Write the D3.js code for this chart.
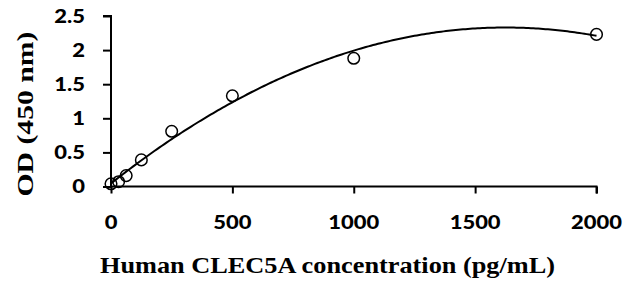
<!DOCTYPE html>
<html><head><meta charset="utf-8">
<script src="https://cdn.jsdelivr.net/npm/d3@7"></script>
<style>body{margin:0;background:#fff}svg{display:block}</style></head>
<body><svg id="c" width="628" height="288"></svg>
<script>
const concentrations = [0, 31.25, 62.5, 125, 250, 500, 1000, 2000];
const odValues = [0.04, 0.07, 0.16, 0.39, 0.81, 1.33, 1.88, 2.23];
const xTicks = [0, 500, 1000, 1500, 2000];
const yTicks = [0, 0.5, 1, 1.5, 2, 2.5];
const yTickLabels = ["0", "0.5", "1", "1.5", "2", "2.5"];
const xTitle = "Human CLEC5A concentration (pg/mL)";
const yTitle = "OD (450 nm)";

const svg = d3.select("#c");
const x = d3.scaleLinear().domain([0, 2000]).range([111, 596.5]);
const y = d3.scaleLinear().domain([0, 2.5]).range([186.5, 16]);

// quadratic least-squares trendline computed from the data
function polyfit2(xs, ys) {
  const s = [0,0,0,0,0], t = [0,0,0];
  xs.forEach((xv, i) => {
    const u = xv / 1000;
    for (let k = 0; k < 5; k++) s[k] += Math.pow(u, k);
    for (let k = 0; k < 3; k++) t[k] += ys[i] * Math.pow(u, k);
  });
  const A = [[s[0], s[1], s[2], t[0]], [s[1], s[2], s[3], t[1]], [s[2], s[3], s[4], t[2]]];
  for (let i = 0; i < 3; i++) {
    for (let j = i + 1; j < 3; j++) {
      const f = A[j][i] / A[i][i];
      for (let k = i; k < 4; k++) A[j][k] -= f * A[i][k];
    }
  }
  const c = [0,0,0];
  for (let i = 2; i >= 0; i--) {
    let v = A[i][3];
    for (let k = i + 1; k < 3; k++) v -= A[i][k] * c[k];
    c[i] = v / A[i][i];
  }
  return xv => { const u = xv / 1000; return c[0] + c[1] * u + c[2] * u * u; };
}
const fit = polyfit2(concentrations, odValues);
const fitPts = d3.range(0, 2001, 10).map(v => [v, fit(v)]);

// axes
const yAxis = d3.axisLeft(y).tickValues(yTicks).tickSize(8).tickFormat("");
const xAxis = d3.axisBottom(x).tickValues(xTicks).tickSize(7).tickFormat("");
const gy = svg.append("g").attr("transform", "translate(111,0)").call(yAxis);
const gx = svg.append("g").attr("transform", "translate(0,186.5)").call(xAxis);
[gy, gx].forEach(g => {
  g.select(".domain").attr("stroke", "#000").attr("stroke-width", 2);
  g.selectAll(".tick line").attr("stroke", "#000").attr("stroke-width", 2);
});
gy.select(".domain").attr("d", "M-8,16H0V186.5");
gx.select(".domain").attr("d", "M111,0H596.5V7");

// tick labels
const tickFont = "Lato, 'Open Sans', sans-serif";
svg.append("g").selectAll("text").data(yTicks).join("text")
  .attr("transform", d => `translate(85,${y(d) + 6.5}) scale(1.22,1)`)
  .attr("text-anchor", "end")
  .attr("font-family", tickFont).attr("font-weight", 900).attr("font-size", 18)
  .text((d, i) => yTickLabels[i]);
svg.append("g").selectAll("text").data(xTicks).join("text")
  .attr("transform", d => `translate(${x(d)},228.5) scale(1.22,1)`)
  .attr("text-anchor", "middle")
  .attr("font-family", tickFont).attr("font-weight", 900).attr("font-size", 18)
  .text(d => d);

// titles
svg.append("text")
  .attr("x", 327.5).attr("y", 273)
  .attr("text-anchor", "middle")
  .attr("font-family", "'Liberation Serif', 'DejaVu Serif', serif")
  .attr("font-weight", "bold").attr("font-size", 23)
  .attr("textLength", 455).attr("lengthAdjust", "spacingAndGlyphs")
  .text(xTitle);
svg.append("text")
  .attr("transform", "translate(33,114) rotate(-90)")
  .attr("text-anchor", "middle")
  .attr("font-family", "'Liberation Serif', 'DejaVu Serif', serif")
  .attr("font-weight", "bold").attr("font-size", 24)
  .attr("textLength", 165).attr("lengthAdjust", "spacingAndGlyphs")
  .text(yTitle);

// trendline
svg.append("path").datum(fitPts)
  .attr("fill", "none").attr("stroke", "#000").attr("stroke-width", 2)
  .attr("d", d3.line().x(d => x(d[0])).y(d => y(d[1])));

// points
svg.append("g").selectAll("circle").data(concentrations).join("circle")
  .attr("cx", d => x(d)).attr("cy", (d, i) => y(odValues[i]))
  .attr("r", 5.8).attr("fill", "none")
  .attr("stroke", "#000").attr("stroke-width", 1.5);
</script></body></html>
